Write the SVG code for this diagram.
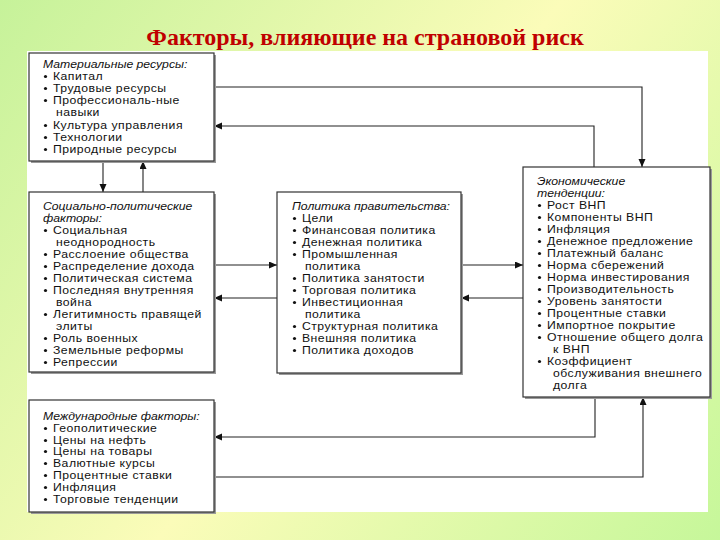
<svg xmlns="http://www.w3.org/2000/svg" xmlns:xlink="http://www.w3.org/1999/xlink" width="720" height="540" viewBox="0 0 720 540">
<style>
.box{fill:#fff;stroke:#333;stroke-width:1.2}
.shadow{fill:#9a9a9a}
.t{font-family:"Liberation Sans",Arial,sans-serif;font-size:10.2px;letter-spacing:0.4px;fill:#111}
.h{font-style:italic;letter-spacing:0}
.b{fill:#111}
.c{fill:none;stroke:#222;stroke-width:1.1}
.title{font-family:"Liberation Serif","Times New Roman",serif;font-size:24px;font-weight:bold;fill:#c00000}
</style>
<defs>
<linearGradient id="bg" x1="0" y1="0" x2="720" y2="540" gradientUnits="userSpaceOnUse">
<stop offset="0" stop-color="#c6f29a"/>
<stop offset="0.5" stop-color="#fbfcb9"/>
<stop offset="1" stop-color="#c6f79a"/>
</linearGradient>
<marker id="ar" markerUnits="userSpaceOnUse" markerWidth="9" markerHeight="8" refX="8" refY="3.5" orient="auto">
<path d="M0,0 L8,3.5 L0,7 z" fill="#111"/>
</marker>
</defs>
<rect width="720" height="540" fill="url(#bg)"/>
<rect x="27" y="51" width="681" height="461" fill="#fff"/>
<text class="title" x="365" y="45" text-anchor="middle">Факторы, влияющие на страновой риск</text>

<g id="connectors">
<path class="c" d="M214,87 H642 V167" marker-end="url(#ar)"/>
<path class="c" d="M594,167 V126 H214" marker-end="url(#ar)"/>
<path class="c" d="M103,161 V192" marker-end="url(#ar)"/>
<path class="c" d="M143,192 V161" marker-end="url(#ar)"/>
<path class="c" d="M214,265 H277" marker-end="url(#ar)"/>
<path class="c" d="M277,298 H214" marker-end="url(#ar)"/>
<path class="c" d="M461,265 H523" marker-end="url(#ar)"/>
<path class="c" d="M523,298 H461" marker-end="url(#ar)"/>
<path class="c" d="M595,397 V437 H214" marker-end="url(#ar)"/>
<path class="c" d="M214,477 H643 V397" marker-end="url(#ar)"/>
</g>

<g id="material">
<rect class="shadow" x="31" y="55" width="185" height="108"/>
<rect class="box" x="29" y="53" width="185" height="108"/>
<g class="t" transform="matrix(1.2,0,0,1,-8.6,0)">
<text class="h" x="43" y="68">Материальные ресурсы:</text>
<text x="51.33" y="80">Капитал</text>
<text x="51.33" y="92">Трудовые ресурсы</text>
<text x="51.33" y="104">Профессиональ-ные</text>
<text x="53.83" y="116">навыки</text>
<text x="51.33" y="129">Культура управления</text>
<text x="51.33" y="141">Технологии</text>
<text x="51.33" y="153">Природные ресурсы</text>
</g>
<g class="b">
<circle cx="45.5" cy="76.5" r="1.6"/><circle cx="45.5" cy="88.5" r="1.6"/><circle cx="45.5" cy="100.5" r="1.6"/>
<circle cx="45.5" cy="125.5" r="1.6"/><circle cx="45.5" cy="137.5" r="1.6"/><circle cx="45.5" cy="149.5" r="1.6"/>
</g>
</g>

<g id="social">
<rect class="shadow" x="31" y="194" width="185" height="180"/>
<rect class="box" x="29" y="192" width="185" height="180"/>
<g class="t" transform="matrix(1.2,0,0,1,-8.6,0)">
<text class="h" x="43" y="210">Социально-политические</text>
<text class="h" x="43" y="222">факторы:</text>
<text x="51.33" y="234">Социальная</text>
<text x="53.83" y="246">неоднородность</text>
<text x="51.33" y="258">Расслоение общества</text>
<text x="51.33" y="270">Распределение дохода</text>
<text x="51.33" y="282">Политическая система</text>
<text x="51.33" y="294">Последняя внутренняя</text>
<text x="53.83" y="306">война</text>
<text x="51.33" y="318">Легитимность правящей</text>
<text x="53.83" y="330">элиты</text>
<text x="51.33" y="342">Роль военных</text>
<text x="51.33" y="354">Земельные реформы</text>
<text x="51.33" y="366">Репрессии</text>
</g>
<g class="b">
<circle cx="45.5" cy="230.5" r="1.6"/><circle cx="45.5" cy="254.5" r="1.6"/><circle cx="45.5" cy="266.5" r="1.6"/>
<circle cx="45.5" cy="278.5" r="1.6"/><circle cx="45.5" cy="290.5" r="1.6"/><circle cx="45.5" cy="314.5" r="1.6"/>
<circle cx="45.5" cy="338.5" r="1.6"/><circle cx="45.5" cy="350.5" r="1.6"/><circle cx="45.5" cy="362.5" r="1.6"/>
</g>
</g>

<g id="government">
<rect class="shadow" x="279" y="194" width="184" height="181"/>
<rect class="box" x="277" y="192" width="184" height="181"/>
<g class="t" transform="matrix(1.2,0,0,1,-58.4,0)">
<text class="h" x="292" y="210">Политика правительства:</text>
<text x="300.33" y="222">Цели</text>
<text x="300.33" y="234">Финансовая политика</text>
<text x="300.33" y="246">Денежная политика</text>
<text x="300.33" y="258">Промышленная</text>
<text x="302.83" y="270">политика</text>
<text x="300.33" y="282">Политика занятости</text>
<text x="300.33" y="294">Торговая политика</text>
<text x="300.33" y="306">Инвестиционная</text>
<text x="302.83" y="318">политика</text>
<text x="300.33" y="330">Структурная политика</text>
<text x="300.33" y="342">Внешняя политика</text>
<text x="300.33" y="354">Политика доходов</text>
</g>
<g class="b">
<circle cx="294.5" cy="218.5" r="1.6"/><circle cx="294.5" cy="230.5" r="1.6"/><circle cx="294.5" cy="242.5" r="1.6"/>
<circle cx="294.5" cy="254.5" r="1.6"/><circle cx="294.5" cy="278.5" r="1.6"/><circle cx="294.5" cy="290.5" r="1.6"/>
<circle cx="294.5" cy="302.5" r="1.6"/><circle cx="294.5" cy="326.5" r="1.6"/><circle cx="294.5" cy="338.5" r="1.6"/>
<circle cx="294.5" cy="350.5" r="1.6"/>
</g>
</g>

<g id="economic">
<rect class="shadow" x="525" y="169" width="187" height="230"/>
<rect class="box" x="523" y="167" width="187" height="230"/>
<g class="t" transform="matrix(1.2,0,0,1,-107.4,0)">
<text class="h" x="537" y="185">Экономические</text>
<text class="h" x="537" y="197">тенденции:</text>
<text x="545.33" y="209">Рост ВНП</text>
<text x="545.33" y="221">Компоненты ВНП</text>
<text x="545.33" y="233">Инфляция</text>
<text x="545.33" y="245">Денежное предложение</text>
<text x="545.33" y="257">Платежный баланс</text>
<text x="545.33" y="269">Норма сбережений</text>
<text x="545.33" y="281">Норма инвестирования</text>
<text x="545.33" y="293">Производительность</text>
<text x="545.33" y="305">Уровень занятости</text>
<text x="545.33" y="317">Процентные ставки</text>
<text x="545.33" y="329">Импортное покрытие</text>
<text x="545.33" y="341">Отношение общего долга</text>
<text x="550.33" y="353">к ВНП</text>
<text x="545.33" y="365">Коэффициент</text>
<text x="550.33" y="377">обслуживания внешнего</text>
<text x="550.33" y="389">долга</text>
</g>
<g class="b">
<circle cx="539.5" cy="205.5" r="1.6"/><circle cx="539.5" cy="217.5" r="1.6"/><circle cx="539.5" cy="229.5" r="1.6"/>
<circle cx="539.5" cy="241.5" r="1.6"/><circle cx="539.5" cy="253.5" r="1.6"/><circle cx="539.5" cy="265.5" r="1.6"/>
<circle cx="539.5" cy="277.5" r="1.6"/><circle cx="539.5" cy="289.5" r="1.6"/><circle cx="539.5" cy="301.5" r="1.6"/>
<circle cx="539.5" cy="313.5" r="1.6"/><circle cx="539.5" cy="325.5" r="1.6"/><circle cx="539.5" cy="337.5" r="1.6"/>
<circle cx="539.5" cy="361.5" r="1.6"/>
</g>
</g>

<g id="international">
<rect class="shadow" x="31" y="402" width="185" height="112"/>
<rect class="box" x="29" y="400" width="185" height="112"/>
<g class="t" transform="matrix(1.2,0,0,1,-8.6,0)">
<text class="h" x="43" y="420">Международные факторы:</text>
<text x="51.33" y="432">Геополитические</text>
<text x="51.33" y="444">Цены на нефть</text>
<text x="51.33" y="455">Цены на товары</text>
<text x="51.33" y="467">Валютные курсы</text>
<text x="51.33" y="479">Процентные ставки</text>
<text x="51.33" y="491">Инфляция</text>
<text x="51.33" y="503">Торговые тенденции</text>
</g>
<g class="b">
<circle cx="45.5" cy="428.5" r="1.6"/><circle cx="45.5" cy="440.5" r="1.6"/><circle cx="45.5" cy="451.5" r="1.6"/>
<circle cx="45.5" cy="463.5" r="1.6"/><circle cx="45.5" cy="475.5" r="1.6"/><circle cx="45.5" cy="487.5" r="1.6"/>
<circle cx="45.5" cy="499.5" r="1.6"/>
</g>
</g>
</svg>
